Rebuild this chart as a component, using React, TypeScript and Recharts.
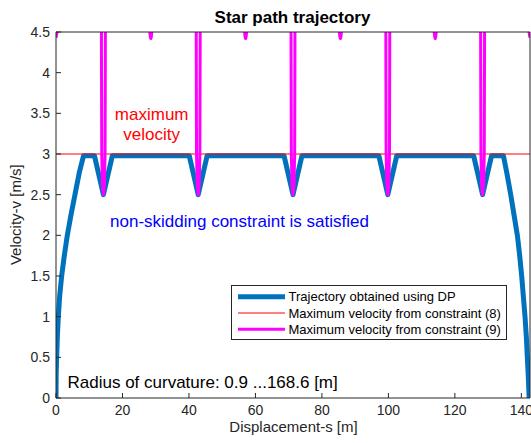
import { LineChart, Line, XAxis, YAxis, Legend } from 'recharts';

const FONT = 'Liberation Sans, Arial, Helvetica, sans-serif';
const S_MAX = 142.6;

const xTicks = [0, 20, 40, 60, 80, 100, 120, 140];
const yTicks = [0, 0.5, 1, 1.5, 2, 2.5, 3, 3.5, 4, 4.5];

// [s, v]
const dpTrajectory = [
  [0, 0], [0.05, 0.3], [0.2, 0.5], [0.4, 0.75], [0.7, 1.0], [1.1, 1.25], [1.7, 1.5],
  [2.5, 1.75], [3.4, 2.0], [4.5, 2.25], [5.7, 2.5], [7.0, 2.77], [8.3, 2.98],
  [11.56, 2.98], [14.26, 2.5], [16.96, 2.98],
  [40.08, 2.98], [42.78, 2.5], [45.48, 2.98],
  [68.6, 2.98], [71.3, 2.5], [74.0, 2.98],
  [97.12, 2.98], [99.82, 2.5], [102.52, 2.98],
  [125.64, 2.98], [128.34, 2.5], [131.04, 2.98],
  [134.6, 2.98], [135.7, 2.75], [136.8, 2.5], [137.8, 2.25], [138.8, 2.0], [139.5, 1.75],
  [140.1, 1.5], [140.6, 1.25], [141.1, 1.0], [141.5, 0.75], [141.8, 0.5], [142.1, 0.25], [142.35, 0],
];

const constraint8 = [[0, 3], [142.6, 3]];

const constraint9 = [
  [0, 4.43], [0.3, 4.5], [0.6, 5.2],
  [13.56, 8], [13.68, 4.2], [13.76, 3.0], [13.96, 2.62], [14.26, 2.5], [14.56, 2.62], [14.76, 3.0], [14.84, 4.2], [14.96, 8],
  [27.92, 5.2], [28.22, 4.5], [28.37, 4.44], [28.52, 4.42], [28.67, 4.44], [28.82, 4.5], [29.12, 5.2],
  [42.08, 8], [42.2, 4.2], [42.28, 3.0], [42.48, 2.62], [42.78, 2.5], [43.08, 2.62], [43.28, 3.0], [43.36, 4.2], [43.48, 8],
  [56.44, 5.2], [56.74, 4.5], [56.89, 4.44], [57.04, 4.42], [57.19, 4.44], [57.34, 4.5], [57.64, 5.2],
  [70.6, 8], [70.72, 4.2], [70.8, 3.0], [71.0, 2.62], [71.3, 2.5], [71.6, 2.62], [71.8, 3.0], [71.88, 4.2], [72.0, 8],
  [84.96, 5.2], [85.26, 4.5], [85.41, 4.44], [85.56, 4.42], [85.71, 4.44], [85.86, 4.5], [86.16, 5.2],
  [99.12, 8], [99.24, 4.2], [99.32, 3.0], [99.52, 2.62], [99.82, 2.5], [100.12, 2.62], [100.32, 3.0], [100.4, 4.2], [100.52, 8],
  [113.48, 5.2], [113.78, 4.5], [113.93, 4.44], [114.08, 4.42], [114.23, 4.44], [114.38, 4.5], [114.68, 5.2],
  [127.64, 8], [127.76, 4.2], [127.84, 3.0], [128.04, 2.62], [128.34, 2.5], [128.64, 2.62], [128.84, 3.0], [128.92, 4.2], [129.04, 8],
  [142.0, 5.2], [142.3, 4.5], [142.6, 4.43],
];

const seriesNames = [
  'Trajectory obtained using DP',
  'Maximum velocity from constraint (8)',
  'Maximum velocity from constraint (9)',
];
const seriesWidths = [5, 1, 3];

const toPoints = (rows: number[][]) => rows.map(([s, v]) => ({ s, v }));

function MatlabLegend(props: any) {
  const items = [...(props.payload || [])].sort(
    (a: any, b: any) => seriesNames.indexOf(a.value) - seriesNames.indexOf(b.value)
  );
  return (
    <svg width={276} height={55} style={{ display: 'block' }}>
      <rect x={0.5} y={0.5} width={275} height={54} fill="#fff" stroke="#262626" strokeWidth={1} />
      {items.map((it: any, i: number) => {
        const cy = 11.7 + i * 16.3;
        return (
          <g key={it.value}>
            <line x1={7} x2={54} y1={cy} y2={cy} stroke={it.color} strokeWidth={seriesWidths[seriesNames.indexOf(it.value)] || 1} />
            <text x={57.5} y={cy + 4.6} fontSize={13} fontFamily={FONT} fill="#000">{it.value}</text>
          </g>
        );
      })}
    </svg>
  );
}

const axisTick = { fill: '#262626', fontSize: 14, fontFamily: FONT };

export default function App() {
  return (
    <div style={{ position: 'absolute', left: 0, top: 0, width: 531, height: 443, background: '#fff' }}>
      <LineChart width={531} height={443} margin={{ top: 2, right: 0, bottom: 0, left: 0 }}>
        <XAxis
          xAxisId="b"
          type="number"
          dataKey="s"
          domain={[0, S_MAX]}
          allowDataOverflow
          ticks={xTicks}
          interval={0}
          height={45}
          tickSize={-5}
          tickMargin={12}
          stroke="#262626"
          tick={axisTick}
        />
        <XAxis
          xAxisId="t"
          orientation="top"
          type="number"
          dataKey="s"
          domain={[0, S_MAX]}
          allowDataOverflow
          ticks={xTicks}
          interval={0}
          height={30}
          tickSize={-5}
          stroke="#262626"
          tick={false}
        />
        <YAxis
          yAxisId="l"
          type="number"
          domain={[0, 4.5]}
          allowDataOverflow
          ticks={yTicks}
          interval={0}
          width={56}
          tickSize={-5}
          tickMargin={11}
          stroke="#262626"
          tick={axisTick}
        />
        <YAxis
          yAxisId="r"
          orientation="right"
          type="number"
          domain={[0, 4.5]}
          allowDataOverflow
          ticks={yTicks}
          interval={0}
          width={1}
          tickSize={-5}
          stroke="#262626"
          tick={false}
        />
        <Legend
          layout="vertical"
          align="center"
          verticalAlign="middle"
          content={<MatlabLegend />}
          wrapperStyle={{ position: 'absolute', left: 231, top: 285, width: 276, height: 55 }}
        />
        <Line
          data={toPoints(dpTrajectory)}
          dataKey="v"
          xAxisId="b"
          yAxisId="l"
          type="linear"
          name={seriesNames[0]}
          stroke="#0072BD"
          strokeWidth={5}
          strokeLinejoin="round"
          dot={false}
          activeDot={false}
          isAnimationActive={false}
        />
        <Line
          data={toPoints(constraint8)}
          dataKey="v"
          xAxisId="b"
          yAxisId="l"
          type="linear"
          name={seriesNames[1]}
          stroke="#FF0000"
          strokeWidth={1}
          dot={false}
          activeDot={false}
          isAnimationActive={false}
        />
        <Line
          data={toPoints(constraint9)}
          dataKey="v"
          xAxisId="b"
          yAxisId="l"
          type="linear"
          name={seriesNames[2]}
          stroke="#FF00FF"
          strokeWidth={3}
          strokeLinejoin="round"
          dot={false}
          activeDot={false}
          isAnimationActive={false}
        />
      </LineChart>
      <svg
        width={531}
        height={443}
        style={{ position: 'absolute', left: 0, top: 0, pointerEvents: 'none' }}
        fontFamily={FONT}
      >
        <text x={292.5} y={22.5} textAnchor="middle" fontSize={17} fontWeight="bold" fill="#000">
          Star path trajectory
        </text>
        <text x={293.5} y={431.5} textAnchor="middle" fontSize={15} fill="#262626">
          Displacement-s [m]
        </text>
        <text transform="translate(21,214.7) rotate(-90)" textAnchor="middle" fontSize={15} fill="#262626">
          Velocity-v [m/s]
        </text>
        <text x={151.7} y={119.5} textAnchor="middle" fontSize={17} fill="#FF0000">maximum</text>
        <text x={151.7} y={140} textAnchor="middle" fontSize={17} fill="#FF0000">velocity</text>
        <text x={239.5} y={227} textAnchor="middle" fontSize={17} fill="#0000FF">
          non-skidding constraint is satisfied
        </text>
        <text x={67.5} y={388.3} fontSize={17} fill="#000">
          Radius of curvature: 0.9 ...168.6 [m]
        </text>
      </svg>
    </div>
  );
}
